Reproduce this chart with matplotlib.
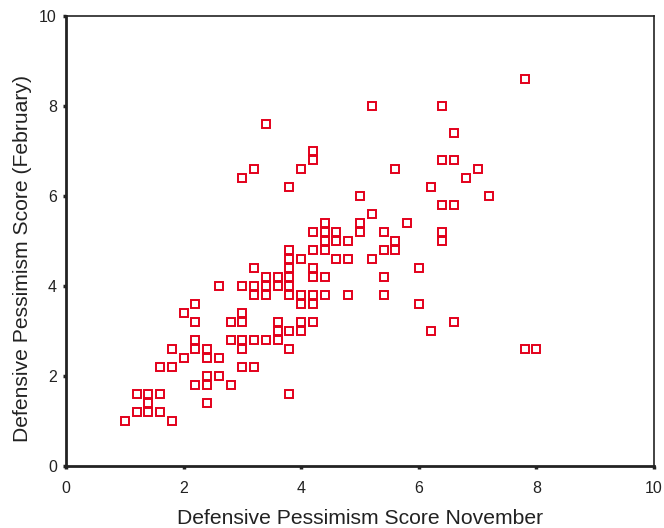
import numpy as np
import matplotlib
matplotlib.use('Agg')
import matplotlib.pyplot as plt

plt.rcParams['font.family'] = ['Liberation Sans', 'DejaVu Sans']

# scores, November (x) vs February (y)
nov = [1.0, 1.2, 1.2, 1.4, 1.4, 1.4, 1.6, 1.6, 1.6, 1.8, 1.8, 1.8,
       2.0, 2.0, 2.2, 2.2, 2.2, 2.2, 2.2, 2.4, 2.4, 2.4, 2.4, 2.4,
       2.6, 2.6, 2.6, 2.8, 2.8, 2.8,
       3.0, 3.0, 3.0, 3.0, 3.0, 3.0, 3.0,
       3.2, 3.2, 3.2, 3.2, 3.2, 3.2,
       3.4, 3.4, 3.4, 3.4, 3.4,
       3.6, 3.6, 3.6, 3.6, 3.6,
       3.8, 3.8, 3.8, 3.8, 3.8, 3.8, 3.8, 3.8, 3.8, 3.8,
       4.0, 4.0, 4.0, 4.0, 4.0, 4.0,
       4.2, 4.2, 4.2, 4.2, 4.2, 4.2, 4.2, 4.2, 4.2,
       4.4, 4.4, 4.4, 4.4, 4.4, 4.4,
       4.6, 4.6, 4.6, 4.8, 4.8, 4.8,
       5.0, 5.0, 5.0, 5.2, 5.2, 5.2,
       5.4, 5.4, 5.4, 5.4, 5.6, 5.6, 5.6, 5.8,
       6.0, 6.0, 6.2, 6.2,
       6.4, 6.4, 6.4, 6.4, 6.4,
       6.6, 6.6, 6.6, 6.6, 6.8, 7.0, 7.2,
       7.8, 7.8, 8.0]
feb = [1.0, 1.6, 1.2, 1.6, 1.4, 1.2, 1.6, 1.2, 2.2, 1.0, 2.2, 2.6,
       2.4, 3.4, 3.2, 3.6, 2.8, 2.6, 1.8, 2.6, 2.4, 2.0, 1.8, 1.4,
       4.0, 2.4, 2.0, 3.2, 2.8, 1.8,
       6.4, 4.0, 3.4, 3.2, 2.8, 2.6, 2.2,
       6.6, 4.4, 4.0, 3.8, 2.8, 2.2,
       7.6, 4.2, 4.0, 3.8, 2.8,
       4.2, 4.0, 3.2, 3.0, 2.8,
       6.2, 4.8, 4.6, 4.4, 4.2, 4.0, 3.8, 3.0, 2.6, 1.6,
       6.6, 4.6, 3.8, 3.6, 3.2, 3.0,
       7.0, 6.8, 5.2, 4.8, 4.4, 4.2, 3.8, 3.6, 3.2,
       5.4, 5.2, 5.0, 4.8, 4.2, 3.8,
       5.2, 5.0, 4.6, 5.0, 4.6, 3.8,
       6.0, 5.4, 5.2, 8.0, 5.6, 4.6,
       5.2, 4.8, 4.2, 3.8, 6.6, 5.0, 4.8, 5.4,
       4.4, 3.6, 6.2, 3.0,
       8.0, 6.8, 5.8, 5.2, 5.0,
       7.4, 6.8, 5.8, 3.2, 6.4, 6.6, 6.0,
       8.6, 2.6, 2.6]

ticks = [0, 2, 4, 6, 8, 10]

fig = plt.figure(figsize=(6.64, 5.28), dpi=100)
ax = fig.add_axes([66 / 664, 62 / 528, 588 / 664, 450 / 528])

ax.plot(nov, feb, linestyle='none', marker='s', markersize=5.2,
        markerfacecolor='white', markeredgecolor='#e3001b', markeredgewidth=1.4,
        clip_on=False)

ax.set_xlim(0, 10)
ax.set_ylim(0, 10)
ax.set_xticks(ticks)
ax.set_yticks(ticks)
ax.tick_params(direction='out', length=2.5, width=2.5, labelsize=11.5, color='#222222',
               labelcolor='#222222')
ax.tick_params(axis='x', pad=8)
ax.tick_params(axis='y', pad=4)

for side in ['left', 'bottom']:
    ax.spines[side].set_linewidth(2)
for side in ['top', 'right']:
    ax.spines[side].set_linewidth(1.2)
for s in ax.spines.values():
    s.set_color('#222222')

ax.set_xlabel('Defensive Pessimism Score November', fontsize=15.2, labelpad=10, color='#222222')
ax.set_ylabel('Defensive Pessimism Score (February)', fontsize=15.2, color='#222222')
ax.yaxis.set_label_coords(-0.057, 0.462)

fig.savefig('out.png', dpi=100)
